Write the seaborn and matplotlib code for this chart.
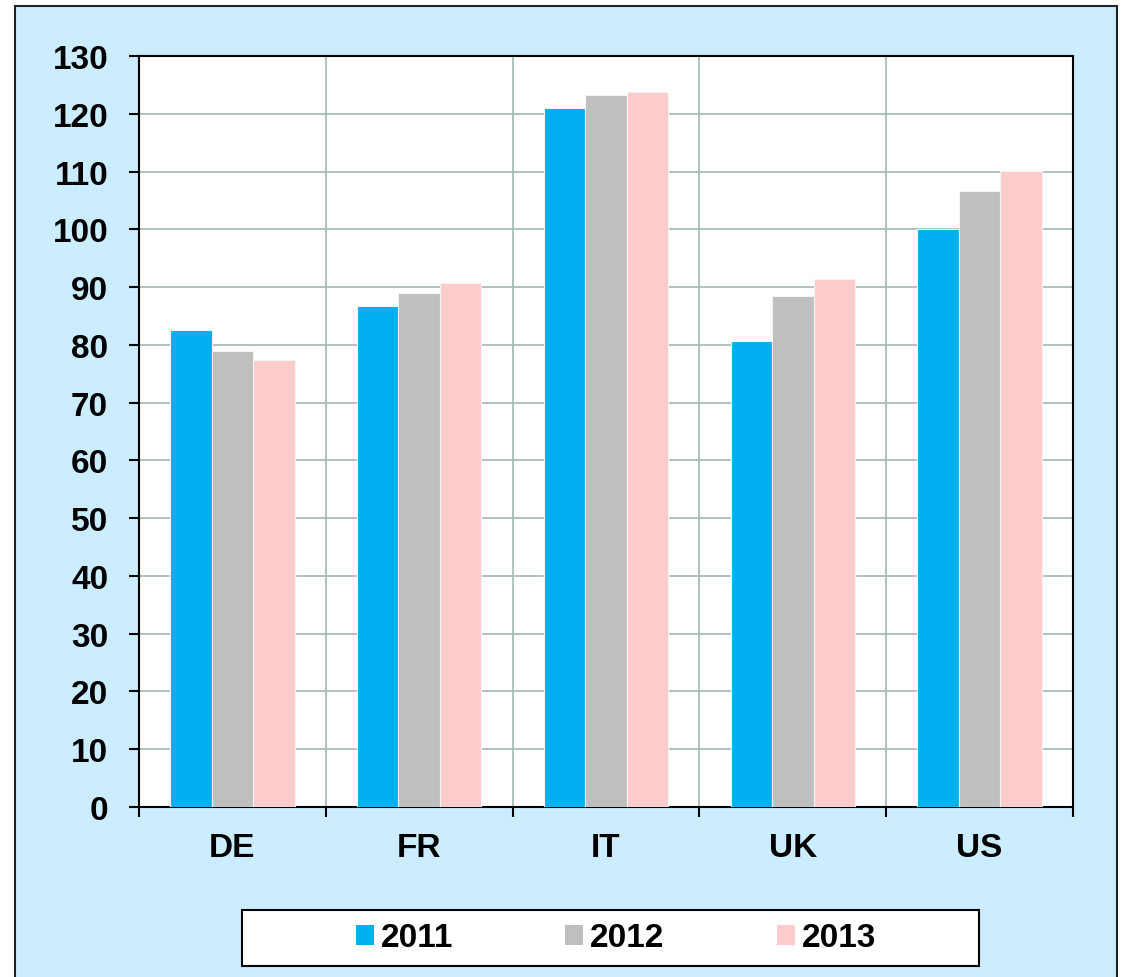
import pandas as pd
import seaborn as sns
import matplotlib.pyplot as plt
from matplotlib.patches import Rectangle

countries = ["DE", "FR", "IT", "UK", "US"]
years = ["2011", "2012", "2013"]
v2011 = [82.6, 86.7, 121.0, 80.7, 100.0]
v2012 = [78.9, 89.0, 123.3, 88.4, 106.6]
v2013 = [77.4, 90.7, 123.7, 91.4, 110.1]
colors = ["#00B0F0", "#BFBFBF", "#FFCCCC"]
yticks = list(range(0, 131, 10))

rows = []
for yr, vals in zip(years, [v2011, v2012, v2013]):
    for c, v in zip(countries, vals):
        rows.append({"country": c, "year": yr, "value": v})
df = pd.DataFrame(rows)

sns.set_style("white")
plt.rcParams["font.family"] = ["Liberation Sans", "DejaVu Sans"]
plt.rcParams["font.weight"] = "bold"
plt.rcParams["text.color"] = "black"
plt.rcParams["xtick.color"] = "black"
plt.rcParams["ytick.color"] = "black"

fig = plt.figure(figsize=(11.22, 9.78), dpi=100)
fig.patch.set_facecolor("white")
W, H = 1122, 978
# light blue chart area with dark border
fig.patches.append(Rectangle((15 / W, -0.02), (1117 - 15) / W, 1 - 7 / H + 0.02,
                             transform=fig.transFigure, facecolor="#CCECFF",
                             edgecolor="#222222", linewidth=1.5, zorder=-2))
# legend box
fig.patches.append(Rectangle((242 / W, 1 - 967 / H), (979 - 242) / W, (967 - 911) / H,
                             transform=fig.transFigure, facecolor="white",
                             edgecolor="black", linewidth=1.5, zorder=-1))

ax = fig.add_axes([139 / W, 1 - 808 / H, (1073 - 139) / W, (808 - 57) / H])
ax.set_facecolor("white")
sns.barplot(data=df, x="country", y="value", hue="year", order=countries,
            hue_order=years, palette=colors, width=0.665, gap=0,
            edgecolor="#F4F4F4", linewidth=0.8, saturation=1, ax=ax, zorder=3)

handles, labels = ax.get_legend_handles_labels()
ax.get_legend().remove()

ax.set_ylim(0, 130)
ax.set_xlim(-0.5, 4.5)
ax.set_yticks(yticks)
ax.set_yticklabels([str(t) for t in yticks], fontsize=24, fontweight="bold")
ax.set_xticks([i - 0.5 for i in range(len(countries) + 1)])
ax.set_xticklabels([])
ax.set_xticks(range(len(countries)), minor=True)
ax.set_xticklabels(countries, minor=True, fontsize=24, fontweight="bold")
ax.tick_params(axis="x", which="minor", bottom=True, length=0, pad=18)
ax.tick_params(axis="x", which="major", bottom=True, direction="out",
               length=7.2, width=1.5, color="black")
ax.tick_params(axis="y", left=True, direction="out", length=7.2, width=1.5,
               color="black", pad=15)
ax.set_xlabel("")
ax.set_ylabel("")

ax.grid(True, which="major", axis="both", color="#A9BDB7", linewidth=1.3, zorder=0)
ax.set_axisbelow(True)
for s in ax.spines.values():
    s.set_visible(True)
    s.set_color("black")
    s.set_linewidth(1.5)

leg = fig.legend(handles, labels, loc="center", bbox_to_anchor=(616 / W, 1 - 939 / H),
                 ncol=3, frameon=False,
                 handlelength=0.54, handleheight=0.54, handletextpad=0.21,
                 columnspacing=3.36, borderpad=0.3,
                 prop={"size": 24, "weight": "bold"})
for h in leg.legend_handles:
    h.set_edgecolor("none")

fig.savefig("out.png", dpi=100)
